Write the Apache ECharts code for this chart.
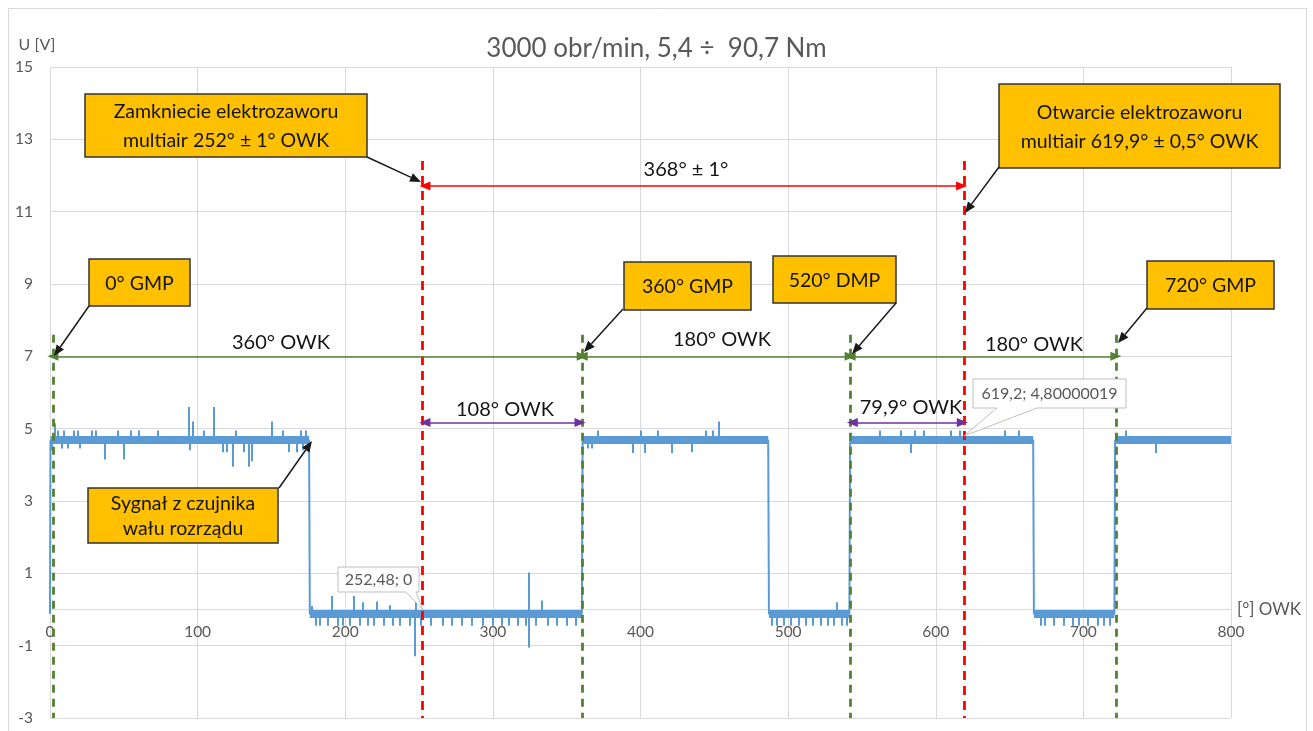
<!DOCTYPE html>
<html><head><meta charset="utf-8">
<script src="https://cdn.jsdelivr.net/npm/echarts@6/dist/echarts.min.js"></script>
<style>html,body{margin:0;padding:0;background:#fff;}#c{width:1313px;height:731px;}</style>
</head><body><div id="c"></div>
<script>
// ---------- DATA ----------
const titleText = '3000 obr/min, 5,4 ÷  90,7 Nm';
const yAxisName = 'U [V]';
const xAxisName = '[°] OWK';
const highLevel = 4.68;
const lowLevel = -0.12;
// square-wave skeleton of the camshaft sensor signal [deg, V]
const signalEdges = [[0,-0.12],[0.3,4.68],[175.5,4.68],[176,-0.12],[360.3,-0.12],[360.8,4.68],[486.5,4.68],[487,-0.12],[541.5,-0.12],[542,4.68],[666,4.68],[666.5,-0.12],[721,-0.12],[721.5,4.68],[800,4.68]];
// noisy plateaus [from, to]
const bandHigh = [[0.3,175.5],[360.8,486.5],[542,666],[721.5,800]];
const bandLow = [[176,360.3],[487,541.5],[666.5,721]];
// spikes on the high plateau [deg, peak V]
const spikesHigh = [[3,5.15],[5,4.95],[9,4.95],[16,4.95],[19,4.95],[28,4.95],[31,4.95],[46,4.95],[55,4.95],[60,4.95],[73,4.95],[94,5.6],[97,5.2],[104,4.95],[111,5.6],[126,4.95],[150,5.2],[158,4.95],[170,4.95],[173,4.95],
  [1,4.4],[8,4.45],[12,4.45],[20,4.45],[37,4.15],[50,4.15],[94.5,4.4],[117,4.35],[120,4.35],[124,3.95],[131,4.35],[134.5,3.95],[137,4.1],[162,4.35],[167,4.35],[171,4.4],
  [371,4.95],[400,4.95],[412,4.95],[444,4.95],[449,4.95],[453,5.2],[395,4.33],[403,4.33],[421.5,4.33],[435,4.35],[364,4.45],[367,4.45],
  [562,4.95],[576,4.95],[586,4.95],[592,4.95],[610,4.95],[616.5,4.95],[647,4.95],[656,4.95],[583,4.33],
  [729,4.95],[749,4.33]];
// spikes on the low plateau [deg, peak V]
const spikesLow = [[177,0.1],[191,0.37],[205.5,0.37],[212,0.2],[221,0.22],[230,0.12],[248,0.37],[324,1.02],[333,0.25],[533,0.2],
  [247.3,-1.29],[324.2,-1.05],
  [180,-0.45],[183,-0.45],[188,-0.45],[195,-0.45],[198,-0.45],[203,-0.45],[210,-0.45],[215,-0.45],[219,-0.45],[226,-0.45],[232,-0.45],[237,-0.45],[244,-0.45],[251,-0.45],[258,-0.45],[266,-0.45],[272,-0.45],[279,-0.45],[286,-0.45],[293,-0.45],[300,-0.45],[306,-0.45],[311,-0.45],[317,-0.45],[322,-0.45],[329,-0.45],[337,-0.45],[343,-0.45],[350,-0.45],[356,-0.45],
  [489,-0.45],[492,-0.45],[497,-0.45],[502,-0.45],[507,-0.45],[512,-0.45],[517,-0.45],[522,-0.45],[527,-0.45],[531,-0.45],[536,-0.45],[540,-0.45],
  [671,-0.45],[674,-0.45],[680,-0.45],[687,-0.45],[693,-0.45],[697,-0.45],[703,-0.45],[710,-0.45],[714,-0.45],[718,-0.45]];
// markers
const greenMarkers = [2, 360.5, 542, 722];
const greenTop = 7.6;
const redMarkers = [252, 619.5];
const redTop = 12.4;
const greenArrowY = 7;
const greenSpans = [[2,360.5],[360.5,542],[542,722]];
const greenLabels = ['360° OWK','180° OWK','180° OWK'];
const redArrowY = 11.71;
const redSpans = [[254,617.5]];
const redLabels = ['368° ± 1°'];
const purpleArrowY = 5.17;
const purpleSpans = [[254,359],[543.5,618]];
const purpleLabels = ['108° OWK','79,9° OWK'];
const calloutPoints = [[252.48, 0],[619.2, 4.80000019]];
const boxTexts = ['Zamkniecie elektrozaworu\nmultiair 252° ± 1° OWK','Otwarcie elektrozaworu\nmultiair 619,9° ± 0,5° OWK','0° GMP','360° GMP','520° DMP','720° GMP','Sygnał z czujnika\nwału rozrządu'];

// ---------- CHART ----------
const FONT = 'Lato, "Noto Sans", sans-serif';
const BLUE = '#5B9BD5', GREEN = '#548235', RED = '#FF0000', PURPLE = '#7030A0';
const chart = echarts.init(document.getElementById('c'), null, {renderer:'canvas'});

function spikeLines(list, base){ return list.map(p => ({coords:[[p[0],base],[p[0],p[1]]]})); }
function bandLines(list, level){ return list.map(s => ({coords:[[s[0],level],[s[1],level]]})); }
function vMarks(xs, top){ return xs.map(x => [{coord:[x,top]},{coord:[x,-3]}]); }
function hArrows(spans, y){ return spans.map(s => [{coord:[s[0],y]},{coord:[s[1],y]}]); }

const option = {
  animation:false,
  title:{text:titleText,left:'center',top:31,textStyle:{color:'#595959',fontSize:26,fontWeight:'normal',fontFamily:FONT}},
  grid:{left:50,right:82,top:67,bottom:13,containLabel:false,outerBoundsMode:'none'},
  xAxis:{type:'value',min:0,max:800,interval:100,
    name:xAxisName,nameLocation:'end',nameGap:6,
    nameTextStyle:{color:'#595959',fontSize:17,fontFamily:FONT,verticalAlign:'middle',padding:[12,0,0,0]},
    axisLine:{onZero:false,lineStyle:{color:'#d9d9d9',width:1}},axisTick:{show:false},
    axisLabel:{color:'#595959',fontSize:15.5,fontFamily:FONT,margin:14},
    splitLine:{show:true,lineStyle:{color:'#d9d9d9',width:1}}},
  yAxis:{type:'value',min:-3,max:15,interval:2,
    axisLine:{show:false},axisTick:{show:false},
    axisLabel:{color:'#595959',fontSize:15.5,fontFamily:FONT,margin:17},
    splitLine:{show:true,lineStyle:{color:'#d9d9d9',width:1}}},
  series:[
    {type:'line',data:signalEdges,showSymbol:false,symbol:'none',lineStyle:{color:BLUE,width:2},z:2,silent:true},
    {type:'lines',coordinateSystem:'cartesian2d',polyline:false,data:bandLines(bandHigh,highLevel).concat(bandLines(bandLow,lowLevel)),lineStyle:{color:BLUE,width:8,opacity:1},z:2,silent:true},
    {type:'lines',coordinateSystem:'cartesian2d',polyline:false,data:spikeLines(spikesHigh,highLevel).concat(spikeLines(spikesLow,lowLevel)),lineStyle:{color:BLUE,width:2,opacity:1},z:2,silent:true},
    {type:'line',data:[],z:5,silent:true,markLine:{silent:true,symbol:'none',animation:false,label:{show:false},
      lineStyle:{color:GREEN,width:2.8,type:[8,6]},emphasis:{disabled:true},data:vMarks(greenMarkers,greenTop)}},
    {type:'line',data:[],z:5,silent:true,markLine:{silent:true,symbol:'none',animation:false,label:{show:false},
      lineStyle:{color:RED,width:2.8,type:[9,6]},emphasis:{disabled:true},data:vMarks(redMarkers,redTop)}},
    {type:'line',data:[],z:6,silent:true,markLine:{silent:true,symbol:['triangle','triangle'],symbolSize:[9,11],animation:false,label:{show:false},
      lineStyle:{color:GREEN,width:1.6,type:'solid'},emphasis:{disabled:true},data:hArrows(greenSpans,greenArrowY)}},
    {type:'line',data:[],z:6,silent:true,markLine:{silent:true,symbol:['triangle','triangle'],symbolSize:[9,11],animation:false,label:{show:false},
      lineStyle:{color:RED,width:1.6,type:'solid'},emphasis:{disabled:true},data:hArrows(redSpans,redArrowY)}},
    {type:'line',data:[],z:6,silent:true,markLine:{silent:true,symbol:['triangle','triangle'],symbolSize:[9,11],animation:false,label:{show:false},
      lineStyle:{color:PURPLE,width:1.6,type:'solid'},emphasis:{disabled:true},data:hArrows(purpleSpans,purpleArrowY)}}
  ]
};
chart.setOption(option);
// move the x axis (line, labels, name) up to V = 0
const P = p => chart.convertToPixel({gridIndex:0}, p);
const yZero = P([0,0])[1], yBottom = P([0,-3])[1];
chart.setOption({xAxis:{offset:-(yBottom - yZero)}});

// ---------- ANNOTATIONS (graphic) ----------
function arrowEls(x1,y1,x2,y2,color,w){
  const a=Math.atan2(y2-y1,x2-x1), L=11, W=4.5;
  const bx=x2-L*Math.cos(a), by=y2-L*Math.sin(a), px=-Math.sin(a)*W, py=Math.cos(a)*W;
  return [{type:'line',silent:true,z:20,shape:{x1:x1,y1:y1,x2:bx,y2:by},style:{stroke:color,lineWidth:w}},
          {type:'polygon',silent:true,z:20,shape:{points:[[x2,y2],[bx+px,by+py],[bx-px,by-py]]},style:{fill:color}}];
}
function txt(x,y,t,size,color,lh){
  return {type:'text',silent:true,z:30,x:x,y:y,style:{text:t,fontSize:size,fontFamily:FONT,fill:color,align:'center',verticalAlign:'middle',lineHeight:lh||Math.round(size*1.25)}};
}
function box(x,y,w,h,t,lh){
  return [{type:'rect',silent:true,z:20,shape:{x:x,y:y,width:w,height:h},style:{fill:'#FFC000',stroke:'#333333',lineWidth:1.5}},
          txt(x+w/2,y+h/2+1,t,19.5,'#141414',lh||29)];
}
const fmt = v => String(v).replace('.', ',');
const g = [];
g.push({type:'rect',silent:true,z:-10,shape:{x:8.5,y:8.5,width:1298,height:730},style:{fill:'none',stroke:'#d9d9d9',lineWidth:1}});
g.push(txt(37,44.5,yAxisName,16,'#595959'));
// span labels
const gl = [[281,343],[722,340],[1034,345]];
greenLabels.forEach((t,i)=>g.push(txt(gl[i][0],gl[i][1],t,20,'#141414')));
g.push(txt(686,170,redLabels[0],20,'#141414'));
const pl = [[505,410],[911,408]];
purpleLabels.forEach((t,i)=>g.push(txt(pl[i][0],pl[i][1],t,20,'#141414')));
// data callouts
const c0 = P(calloutPoints[0]), c1 = P(calloutPoints[1]);
g.push({type:'polygon',silent:true,z:21,shape:{points:[[338,567],[419,567],[419,592],[416,592],[c0[0],c0[1]],[406,592],[338,592]]},style:{fill:'#ffffff',stroke:'#bfbfbf',lineWidth:1}});
g.push(txt(378.5,579.5,fmt(calloutPoints[0][0])+'; '+fmt(calloutPoints[0][1]),16,'#595959'));
g.push({type:'polygon',silent:true,z:21,shape:{points:[[973,379],[1126,379],[1126,408],[1037,408],[c1[0],c1[1]],[997,408],[973,408]]},style:{fill:'#ffffff',stroke:'#bfbfbf',lineWidth:1}});
g.push(txt(1049.5,393.5,fmt(calloutPoints[1][0])+'; '+fmt(calloutPoints[1][1]),16,'#595959'));
// orange boxes and arrows
g.push(...box(85,94,282,63,boxTexts[0]));
g.push(...arrowEls(367,157,421,182,'#1a1a1a',1.5));
g.push(...box(999,84,281,84,boxTexts[1]));
g.push(...arrowEls(999,167,965,213,'#1a1a1a',1.5));
g.push(...box(89,259,101,47,boxTexts[2]));
g.push(...arrowEls(89,306,54,356,'#1a1a1a',1.5));
g.push(...box(624,262,127,48,boxTexts[3]));
g.push(...arrowEls(623,309,584,352,'#1a1a1a',1.5));
g.push(...box(773,256,123,47,boxTexts[4]));
g.push(...arrowEls(896,303,852,354,'#1a1a1a',1.5));
g.push(...box(1147,261,127,48,boxTexts[5]));
g.push(...arrowEls(1147,308,1118,343,'#1a1a1a',1.5));
g.push(...box(88,488,190,55,boxTexts[6],25));
g.push(...arrowEls(279,488,312,441,'#1a1a1a',1.5));
chart.setOption({graphic:g});
</script></body></html>
